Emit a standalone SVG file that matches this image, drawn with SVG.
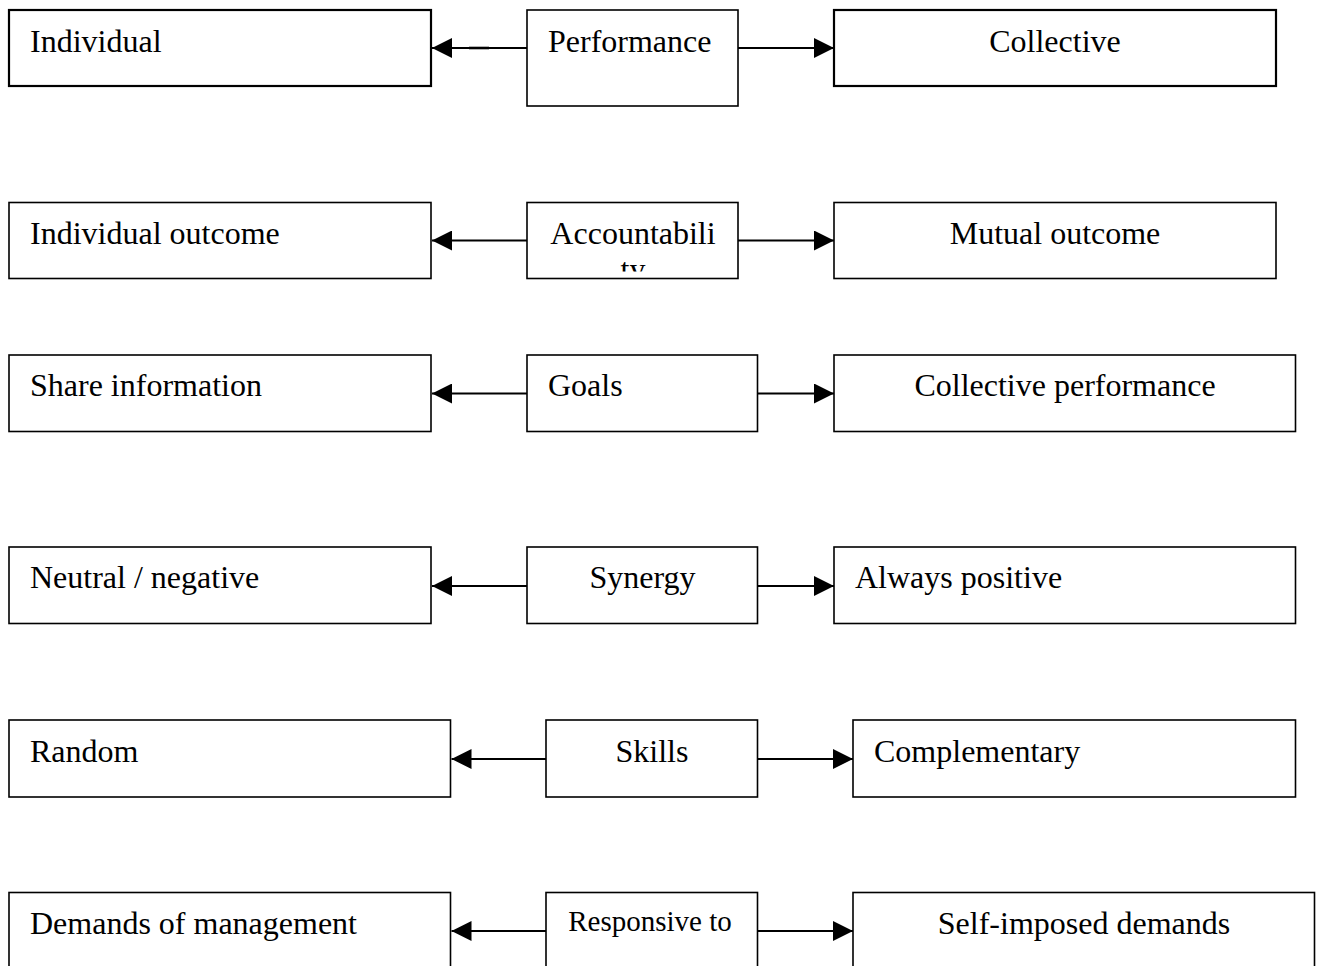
<svg xmlns="http://www.w3.org/2000/svg" width="1319" height="966" viewBox="0 0 1319 966">
<style>
rect{fill:#fff;stroke:#000;stroke-width:1.6}
rect.thick{stroke-width:2.2}
text{font-family:"Liberation Serif","Times New Roman",serif;font-size:32px;fill:#000}
.c{text-anchor:middle}
.s{font-size:29px}
#connectors line{stroke:#000;stroke-width:2;marker-end:url(#ah)}
</style>
<defs>
<marker id="ah" viewBox="0 0 20 20" refX="20" refY="10" markerWidth="20" markerHeight="20" markerUnits="userSpaceOnUse" orient="auto">
<path d="M0,0 L20,10 L0,20 z" fill="#000"/>
</marker>
<clipPath id="accClip"><rect x="528" y="203.5" width="209" height="68"/></clipPath>
</defs>
<rect x="0" y="0" width="1319" height="966" style="fill:#fff;stroke:none"/>

<g id="connectors">
<line x1="527" y1="48" x2="432" y2="48"/>
<line x1="738" y1="48" x2="834" y2="48"/>
<line x1="527" y1="240.5" x2="432" y2="240.5"/>
<line x1="738" y1="240.5" x2="834" y2="240.5"/>
<line x1="527" y1="393.5" x2="432" y2="393.5"/>
<line x1="757.5" y1="393.5" x2="834" y2="393.5"/>
<line x1="527" y1="586" x2="432" y2="586"/>
<line x1="757.5" y1="586" x2="834" y2="586"/>
<line x1="546" y1="759" x2="451.5" y2="759"/>
<line x1="757.5" y1="759" x2="853" y2="759"/>
<line x1="546" y1="931" x2="451.5" y2="931"/>
<line x1="757.5" y1="931" x2="853" y2="931"/>
<path d="M469,48 H489" stroke="#000" stroke-width="2.6" fill="none"/>
</g>

<g id="n-individual"><rect class="thick" x="9" y="10" width="422" height="76"/><text x="30" y="52">Individual</text></g>
<g id="n-performance"><rect x="527" y="10" width="211" height="96"/><text x="548" y="52">Performance</text></g>
<g id="n-collective"><rect class="thick" x="834" y="10" width="442" height="76"/><text class="c" x="1055" y="52">Collective</text></g>

<g id="n-individual-outcome"><rect x="9" y="202.5" width="422" height="76"/><text x="30" y="243.5">Individual outcome</text></g>
<g id="n-accountability"><rect x="527" y="202.5" width="211" height="76"/><g clip-path="url(#accClip)"><text class="c" x="633" y="243.5">Accountabili</text><text class="c" x="633" y="279.5">ty</text></g></g>
<g id="n-mutual-outcome"><rect x="834" y="202.5" width="442" height="76"/><text class="c" x="1055" y="243.5">Mutual outcome</text></g>

<g id="n-share-information"><rect x="9" y="355" width="422" height="76.5"/><text x="30" y="396">Share information</text></g>
<g id="n-goals"><rect x="527" y="355" width="230.5" height="76.5"/><text x="548" y="396">Goals</text></g>
<g id="n-collective-performance"><rect x="834" y="355" width="461.5" height="76.5"/><text class="c" x="1065" y="396">Collective performance</text></g>

<g id="n-neutral-negative"><rect x="9" y="547" width="422" height="76.5"/><text x="30" y="588">Neutral / negative</text></g>
<g id="n-synergy"><rect x="527" y="547" width="230.5" height="76.5"/><text class="c" x="642.5" y="588">Synergy</text></g>
<g id="n-always-positive"><rect x="834" y="547" width="461.5" height="76.5"/><text x="855" y="588">Always positive</text></g>

<g id="n-random"><rect x="9" y="720" width="441.5" height="77"/><text x="30" y="762">Random</text></g>
<g id="n-skills"><rect x="546" y="720" width="211.5" height="77"/><text class="c" x="652" y="762">Skills</text></g>
<g id="n-complementary"><rect x="853" y="720" width="442.5" height="77"/><text x="874" y="762">Complementary</text></g>

<g id="n-demands-of-management"><rect x="9" y="892.5" width="441.5" height="80"/><text x="30" y="934">Demands of management</text></g>
<g id="n-responsive-to"><rect x="546" y="892.5" width="211.5" height="80"/><text class="c s" x="650" y="931">Responsive to</text></g>
<g id="n-self-imposed-demands"><rect x="853" y="892.5" width="461.5" height="80"/><text class="c" x="1084" y="934">Self-imposed demands</text></g>
</svg>
